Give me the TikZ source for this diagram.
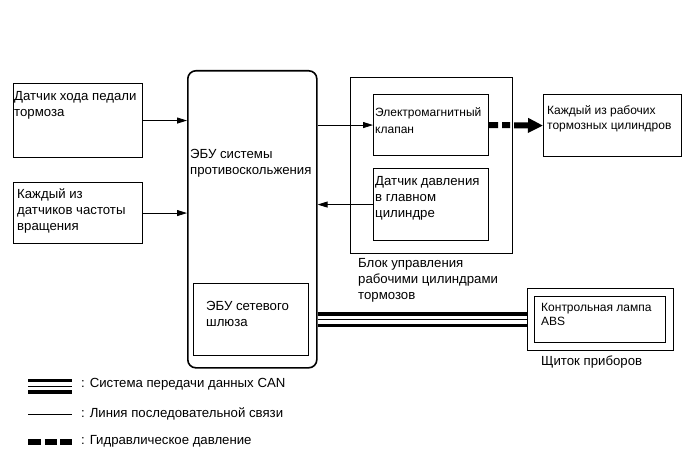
\documentclass[tikz,border=0pt]{standalone}
\usepackage{fontspec}
\setmainfont{Liberation Sans}
\usetikzlibrary{positioning, arrows.meta}

\begin{document}
\begin{tikzpicture}[x=1pt,y=-1pt,font=\fontsize{13.2}{16}\selectfont,>={Triangle[length=10pt,width=6pt]},
  bx/.style={draw,line width=1.1pt,anchor=north west,inner sep=0pt},
  txt/.style={anchor=base west,align=left,inner sep=0pt},
  sml/.style={font=\fontsize{12}{#1}\selectfont},sml/.default=15,
  sig/.style={line width=0.8pt,->},
  can/.style={line width=15pt,postaction={draw,white,line width=8pt},postaction={draw,black,line width=1pt}},
  hyd/.style={line width=6pt,dash pattern=on 9pt off 4pt on 8pt off 4pt on 40pt,-{Triangle[length=15pt,width=14pt]}}]
  \useasboundingbox (0,0) rectangle (690,465);
  % boxes
  \node[bx,minimum width=129pt,minimum height=74pt](pedal) at (13,83) {};
  \node[bx,minimum width=129pt,minimum height=61pt](speed) at (13,182) {};
  \node[bx,line width=1.6pt,rounded corners=8pt,minimum width=129pt,minimum height=297pt](ecu) at (187,70) {};
  \node[bx,minimum width=115pt,minimum height=72pt](gw) at (193,283) {};
  \node[bx,minimum width=162pt,minimum height=176pt](blk) at (350,77) {};
  \node[bx,minimum width=115pt,minimum height=61pt](sol) at (373,94) {};
  \node[bx,minimum width=115pt,minimum height=72pt](prs) at (373,168) {};
  \node[bx,minimum width=138pt,minimum height=62pt](whl) at (543,94) {};
  \node[bx,minimum width=146pt,minimum height=62pt](ipo) at (527,288) {};
  \node[bx,minimum width=131pt,minimum height=46pt](ipi) at (534,296) {};
  % texts (anchored at the last line)
  \node[txt](pedalt) at (14,117) {Датчик хода педали\\тормоза};
  \node[txt](speedt) at (17,230) {Каждый из\\датчиков частоты\\вращения};
  \node[txt](ecut) at (190,175) {ЭБУ системы\\противоскольжения};
  \node[txt](gwt) at (206,326) {ЭБУ сетевого\\шлюза};
  \node[txt,sml=17](solt) at (375,134) {Электромагнитный\\клапан};
  \node[txt](prst) at (375,217) {Датчик давления\\в главном\\цилиндре};
  \node[txt,sml](whlt) at (547,130) {Каждый из рабочих\\тормозных цилиндров};
  \node[txt](blkt) at (358,299) {Блок управления\\рабочими цилиндрами\\тормозов};
  \node[txt,sml=14](ipit) at (541,325) {Контрольная лампа\\ABS};
  \node[txt](ipot) at (541,365) {Щиток приборов};
  % connectors
  \draw[sig](pedal.east)--(pedal.east-|ecu.west);
  \draw[sig](speed.east)--(speed.east-|ecu.west);
  \draw[sig](sol.west-|ecu.east)--(sol.west);
  \draw[sig](prs.west)--(prs.west-|ecu.east);
  \draw[hyd](sol.east)--(whl.west);
  \draw[can](ipo.west-|ecu.east)--(ipo.west);
  % legend
  \coordinate(lcan) at (28,386);\coordinate(lser) at (28,414);\coordinate(lhyd) at (28,442);
  \draw[can](lcan)--++(44,0);
  \draw[line width=0.8pt](lser)--++(44,0);
  \draw[line width=6pt,dash pattern=on 13pt off 3.5pt on 12pt off 3.5pt on 12pt](lhyd)--++(44,0);
  \node[txt](lcant) at (81,387) {: Система передачи данных CAN};
  \node[txt](lsert) at (81,417) {: Линия последовательной связи};
  \node[txt](lhydt) at (81,444) {: Гидравлическое давление};
\end{tikzpicture}
\end{document}
